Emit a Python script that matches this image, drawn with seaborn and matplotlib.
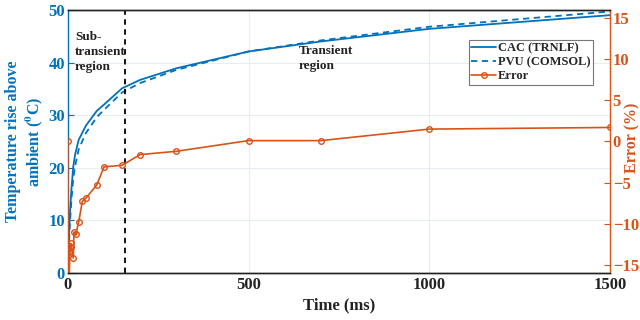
import numpy as np
import pandas as pd
import matplotlib
matplotlib.use("Agg")
import matplotlib.pyplot as plt
import seaborn as sns

# ---- data ----
time_ms = [0, 5, 10, 15, 20, 30, 50, 80, 100, 150, 200, 300, 500, 700, 1000, 1500]
cac_trnlf = [0, 10.5, 16.0, 20.2, 22.5, 25.3, 28.0, 30.8, 32.0, 35.1, 36.7, 38.9, 42.1, 44.0, 46.4, 49.0]
pvu_comsol = [0, 8.5, 14.0, 18.0, 20.3, 23.5, 26.6, 29.6, 31.0, 34.3, 36.1, 38.6, 42.1, 44.2, 46.8, 49.7]

err_time = [0, 1, 6, 7, 8, 10, 15, 17, 22, 30, 40, 50, 80, 100, 150, 200, 300, 500, 700, 1000, 1500]
err_pct = [0.1, -20.0, -13.3, -13.4, -12.4, -12.9, -14.2, -11.0, -11.3, -9.8, -7.3, -6.9,
           -5.3, -3.1, -2.9, -1.6, -1.2, 0.1, 0.1, 1.5, 1.7]

series_labels = ["CAC (TRNLF)", "PVU (COMSOL)", "Error"]
region_labels = ["Sub-\ntransient\nregion", "Transient\nregion"]
boundary_ms = 158

BLUE = "#0072BD"
ORANGE = "#D95319"

sns.set_theme(style="white")
plt.rcParams["font.family"] = ["Liberation Serif", "DejaVu Serif"]
plt.rcParams["font.weight"] = "bold"
plt.rcParams["mathtext.fontset"] = "stix"
plt.rcParams["xtick.direction"] = "in"
plt.rcParams["ytick.direction"] = "in"

fig = plt.figure(figsize=(6.4, 3.2), dpi=100)
ax = fig.add_axes([0.106, 0.147, 0.847, 0.822])
ax2 = ax.twinx()

df_t = pd.DataFrame({"t": time_ms, "cac": cac_trnlf, "pvu": pvu_comsol})
df_e = pd.DataFrame({"t": err_time, "e": err_pct})

sns.lineplot(data=df_t, x="t", y="cac", ax=ax, color=BLUE, lw=1.3, label=series_labels[0], legend=False)
sns.lineplot(data=df_t, x="t", y="pvu", ax=ax, color=BLUE, lw=1.3, linestyle=(0, (3.5, 2.5)),
             label=series_labels[1], legend=False)
sns.lineplot(data=df_e, x="t", y="e", ax=ax2, color=ORANGE, lw=1.2, marker="o", markersize=4,
             markerfacecolor="none", markeredgecolor=ORANGE, markeredgewidth=1.0,
             label=series_labels[2], legend=False)

ax.axvline(boundary_ms, color="black", ls=(0, (3, 2.5)), lw=1.3)

ax.set_xlim(0, 1500)
ax.set_ylim(0, 50)
ax2.set_ylim(-16, 16)
ax.set_xticks([0, 500, 1000, 1500])
ax.set_yticks([0, 10, 20, 30, 40, 50])
ax2.set_yticks([-15, -10, -5, 0, 5, 10, 15])

ax.grid(True, color="#e6eef4", lw=0.8)
ax.set_axisbelow(True)

ax.set_xlabel("Time (ms)", fontsize=12, fontweight="bold", color="#222222", labelpad=3)
ax.set_ylabel("Temperature rise above\nambient ($^{0}$C)", fontsize=11.5, fontweight="bold",
              color=BLUE, linespacing=1.2)
ax.yaxis.set_label_coords(-0.042, 0.5)
ax2.set_ylabel("Error (%)", fontsize=11.5, fontweight="bold", color=ORANGE)
ax2.yaxis.set_label_coords(1.027, 0.515)

ax.tick_params(axis="x", labelsize=12, colors="#222222", length=4, width=0.8, pad=3)
ax.tick_params(axis="y", labelsize=12, colors=BLUE, length=4, width=0.8, pad=2)
ax2.tick_params(axis="y", labelsize=12, colors=ORANGE, length=4, width=0.8, pad=2)
for lab in ax.get_xticklabels() + ax.get_yticklabels() + ax2.get_yticklabels():
    lab.set_fontweight("bold")

for a in (ax, ax2):
    a.spines["top"].set_color("#222222")
    a.spines["bottom"].set_color("#222222")
    a.spines["left"].set_color(BLUE)
    a.spines["right"].set_color(ORANGE)
    for s in a.spines.values():
        s.set_linewidth(1.0)
ax2.spines["left"].set_visible(False)
ax.spines["right"].set_visible(False)

ax.text(20, 46.0, region_labels[0], fontsize=9.5, fontweight="bold", va="top", ha="left",
        color="#222222", linespacing=1.35)
ax.text(638, 43.3, region_labels[1], fontsize=9.5, fontweight="bold", va="top", ha="left",
        color="#222222", linespacing=1.3)

h1, l1 = ax.get_legend_handles_labels()
h2, l2 = ax2.get_legend_handles_labels()
leg = ax2.legend(h1 + h2, l1 + l2, loc="upper right", bbox_to_anchor=(0.968, 0.885),
                 fontsize=9, frameon=True, fancybox=False, edgecolor="#555555",
                 handlelength=2.0, handletextpad=0.1, borderpad=0.2, labelspacing=0.15,
                 borderaxespad=0)
leg.get_frame().set_linewidth(0.8)
for t in leg.get_texts():
    t.set_fontweight("bold")

fig.savefig("out.png", dpi=100)
